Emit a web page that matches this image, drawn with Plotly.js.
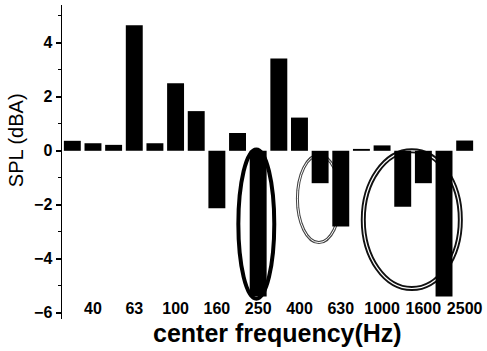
<!DOCTYPE html>
<html>
<head>
<meta charset="utf-8">
<script src="https://cdn.plot.ly/plotly-3.0.1.min.js"></script>
<style>html,body{margin:0;padding:0;background:#fff;}#chart{width:487px;height:351px;}</style>
</head>
<body>
<div id="chart"></div>
<script>
// third-octave band centre frequencies (Hz)
const bands = ['31.5','40','50','63','80','100','125','160','200','250','315','400','500','630','800','1000','1250','1600','2000','2500'];
// SPL difference (dBA)
const splValues = [0.37,0.28,0.22,4.65,0.28,2.5,1.47,-2.13,0.66,-5.4,3.42,1.23,-1.2,-2.8,0.07,0.2,-2.07,-1.2,-5.4,0.38];
// labelled ticks
const tickLabels = ['40','63','100','160','250','400','630','1000','1600','2500'];
const yTicks = [-6,-4,-2,0,2,4];
const xTitle = 'center frequency(Hz)';
const yTitle = 'SPL (dBA)';

const yRange = [-6.23, 5.4];
const xRange = [-0.5, bands.length - 0.5];
const zeroPos = (0 - yRange[0]) / (yRange[1] - yRange[0]);

const FONT = 'Arial, "Liberation Sans", sans-serif';

function ellipse(x0, x1, y0, y1, color, width) {
  return {type:'circle', xref:'x', yref:'y', x0:x0, x1:x1, y0:y0, y1:y1, layer:'below',
          line:{color:color, width:width}, fillcolor:'rgba(0,0,0,0)'};
}

const data = [{
  type:'bar', x:bands, y:splValues, marker:{color:'#000', line:{width:0}},
  xaxis:'x', yaxis:'y', hoverinfo:'skip'
}];

const layout = {
  width:487, height:351,
  margin:{l:62, r:12, t:5, b:32},
  paper_bgcolor:'#fff', plot_bgcolor:'rgba(0,0,0,0)',
  showlegend:false,
  bargap:0.18,
  font:{family:FONT, color:'#000'},
  xaxis:{
    type:'category', categoryorder:'array', categoryarray:bands,
    range:xRange, anchor:'free', position:0.07,
    showline:false, showgrid:false, zeroline:false, ticks:'',
    tickmode:'array', tickvals:tickLabels, ticktext:tickLabels,
    tickfont:{family:FONT, size:16, color:'#000', weight:'bold'}
  },
  xaxis2:{
    type:'category', categoryorder:'array', categoryarray:bands,
    range:xRange, overlaying:'x', anchor:'free', position:zeroPos,
    showline:true, linecolor:'#000', linewidth:2, showgrid:false, zeroline:false,
    ticks:'outside', ticklen:4, tickwidth:1.5, tickcolor:'#000',
    tickmode:'array', tickvals:bands, showticklabels:false
  },
  yaxis:{
    range:yRange, showgrid:false, zeroline:false,
    showline:true, linecolor:'#000', linewidth:1.5,
    ticks:'outside', ticklen:5, tickwidth:1.5, tickcolor:'#000',
    tickmode:'array', tickvals:yTicks,
    minor:{ticks:'outside', ticklen:3, tickwidth:1, tickcolor:'#000', dtick:1, tick0:0, showgrid:false},
    tickfont:{family:FONT, size:16, color:'#000', weight:'bold'}
  },
  annotations:[
    {text:'<b>'+xTitle+'</b>', xref:'paper', yref:'paper', x:0.523, y:-0.045,
     xanchor:'center', yanchor:'middle', showarrow:false,
     font:{family:FONT, size:25, color:'#000'}},
    {text:yTitle, xref:'paper', yref:'paper', x:-0.111, y:0.57, textangle:-90,
     xanchor:'center', yanchor:'middle', showarrow:false,
     font:{family:FONT, size:20, color:'#000'}}
  ],
  shapes:[
    ellipse(8.04, 9.78, 0.05, -5.48, '#000', 4),
    ellipse(10.9, 12.98, -0.16, -3.4, '#444', 3),
    ellipse(10.9, 12.98, -0.16, -3.4, '#fff', 1),
    ellipse(14.09, 18.79, 0.0, -5.1, '#111', 5),
    ellipse(14.09, 18.79, 0.0, -5.1, '#fff', 1.2)
  ]
};

Plotly.newPlot('chart', data, layout, {staticPlot:true, displayModeBar:false});
</script>
</body>
</html>
